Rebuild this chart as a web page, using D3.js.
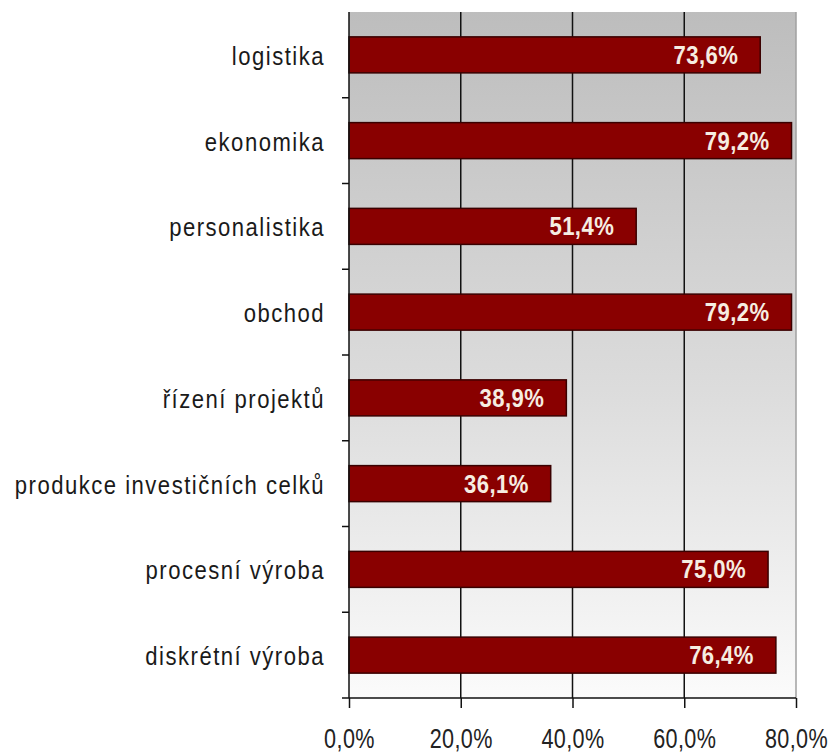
<!DOCTYPE html>
<html><head><meta charset="utf-8">
<script src="https://cdn.jsdelivr.net/npm/d3@7"></script>
<style>
html,body{margin:0;padding:0;background:#fff;}
text{font-family:"Liberation Sans",Arial,sans-serif;}
</style></head>
<body>
<svg id="chart" width="834" height="754"></svg>
<script>
const categories = ["logistika","ekonomika","personalistika","obchod","řízení projektů","produkce investičních celků","procesní výroba","diskrétní výroba"];
const values = [73.6, 79.2, 51.4, 79.2, 38.9, 36.1, 75.0, 76.4];
const valueLabels = ["73,6%","79,2%","51,4%","79,2%","38,9%","36,1%","75,0%","76,4%"];
const xTicks = [0, 20, 40, 60, 80];
const xTickLabels = ["0,0%","20,0%","40,0%","60,0%","80,0%"];

const svg = d3.select("#chart");
const mLeft = 349, mRight = 796, mTop = 12, mBottom = 698;

const x = d3.scaleLinear().domain([0, 80]).range([mLeft, mRight]);
const y = d3.scaleBand().domain(categories).range([mTop, mBottom]).paddingInner(0.58).paddingOuter(0.29);

const defs = svg.append("defs");
const g = defs.append("linearGradient").attr("id","bg").attr("x1",0).attr("y1",0).attr("x2",0).attr("y2",1);
g.append("stop").attr("offset","0%").attr("stop-color","#bdbdbd");
g.append("stop").attr("offset","55%").attr("stop-color","#dcdcdc");
g.append("stop").attr("offset","100%").attr("stop-color","#fbfbfb");

svg.append("rect").attr("x", mLeft).attr("y", mTop).attr("width", mRight-mLeft).attr("height", mBottom-mTop).attr("fill","url(#bg)");

svg.append("line").attr("x1", mRight).attr("x2", mRight).attr("y1", mTop).attr("y2", mBottom).attr("stroke","#a0a0a0").attr("stroke-width",1.5);

svg.append("g").selectAll("line").data(xTicks.filter(d => d>0 && d<80)).join("line")
  .attr("x1", d => x(d)).attr("x2", d => x(d)).attr("y1", mTop).attr("y2", mBottom)
  .attr("stroke","#111").attr("stroke-width",1.5);

const bars = svg.append("g");
bars.selectAll("rect").data(values).join("rect")
  .attr("x", x(0)).attr("y", (d,i) => y(categories[i]))
  .attr("width", d => x(d) - x(0)).attr("height", y.bandwidth())
  .attr("fill","#890000").attr("stroke","#3a0000").attr("stroke-width",1.5);

bars.selectAll("text").data(values).join("text")
  .attr("transform", (d,i) => `translate(${x(d) - 22},${y(categories[i]) + y.bandwidth()/2 + 9}) scale(0.85,1)`)
  .attr("text-anchor","end").attr("fill","#f6ede2").attr("font-weight","bold").attr("font-size",26)
  .attr("letter-spacing",0.5)
  .text((d,i) => valueLabels[i]);

const xAxis = d3.axisBottom(x).tickValues(xTicks).tickFormat((d,i) => xTickLabels[i]).tickSize(10).tickSizeOuter(0);
const xg = svg.append("g").attr("transform", `translate(0,${mBottom})`).call(xAxis);
xg.select(".domain").remove();
xg.append("line").attr("x1", mLeft-7).attr("x2", mRight).attr("y1",0).attr("y2",0).attr("stroke","#111").attr("stroke-width",1.5);
xg.selectAll(".tick line").attr("stroke","#111").attr("stroke-width",1.5);
xg.selectAll(".tick text").attr("font-size",27).attr("fill","#222").attr("dy",0).attr("y",50)
  .attr("transform","scale(0.8,1)").attr("letter-spacing",0.5).attr("font-family",null);

svg.append("line").attr("x1", mLeft).attr("x2", mLeft).attr("y1", mTop).attr("y2", mBottom).attr("stroke","#111").attr("stroke-width",1.5);
const step = y.step();
const boundaries = categories.slice(1).map(c => y(c) - y.paddingInner()*step/2);
svg.append("g").selectAll("line").data(boundaries).join("line")
  .attr("x1", mLeft-7).attr("x2", mLeft).attr("y1", d => d).attr("y2", d => d)
  .attr("stroke","#111").attr("stroke-width",1.5);

svg.append("g").selectAll("text").data(categories).join("text")
  .attr("transform", d => `translate(${mLeft - 24},${y(d) + y.bandwidth()/2 + 10}) scale(0.85,1)`)
  .attr("text-anchor","end").attr("font-size",26).attr("fill","#1a1a1a")
  .attr("letter-spacing",1.75)
  .text(d => d);
</script>
</body></html>
